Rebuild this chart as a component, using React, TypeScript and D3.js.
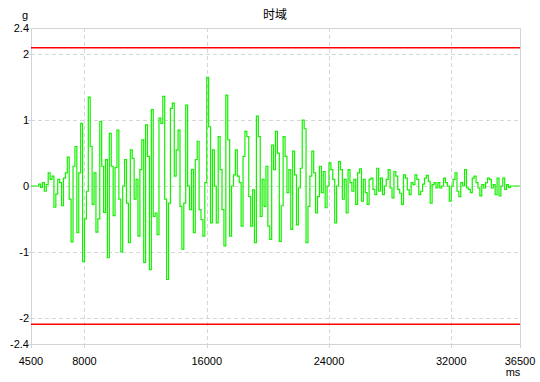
import React from "react";
import * as d3 from "d3";

const title = "时域";
const yUnit = "g";
const xUnit = "ms";
const xDomain = [4500, 36500];
const yDomain = [-2.4, 2.4];
const xTicks = [4500, 8000, 16000, 24000, 32000, 36500];
const xGrid = [8000, 16000, 24000, 32000];
const yTicks = [-2.4, -2, -1, 0, 1, 2, 2.4];
const yGrid = [-2, -1, 0, 1, 2];
const limits = [2.1, -2.1];
const sampleStartMs = 4500;
const sampleStepMs = 125;
const accel = [
  0, 0, 0, 0, 0.03, -0.02, 0.05, -0.08, 0.02, 0.2,
  0.1, 0.15, -0.32, -0.12, 0.1, 0.05, -0.3, 0.12, 0.2, 0.44,
  -0.2, -0.85, 0.3, 0.6, -0.71, 0.2, 0.95, -1.15, -0.5, -0.08,
  1.35, 0.6, -0.28, 0.2, -0.7, -0.5, 0.98, 0.3, -0.4, 0.4,
  -1.09, 0.8, 0.3, -0.45, 0.28, 0.85, -0.2, -1.0, 0.0, 0.4,
  -0.26, -0.86, 0.55, 0.42, -0.2, 0.1, -0.76, 0.25, 0.7, -1.16,
  0.93, 0.45, -1.27, 1.16, -0.46, -0.41, -0.74, 1.03, 0.95, 1.36,
  -0.2, -1.42, -0.26, 1.18, 1.26, 0.15, 0.55, 0.85, -0.31, -0.96,
  -0.26, 1.23, 0.0, -0.36, 0.25, -0.71, 0.4, 0.68, -0.36, -0.51,
  -0.76, 0.05, 1.65, 0.9, -0.56, 0.55, 0.0, -0.56, 0.75, 0.25,
  -0.36, -0.91, 1.38, 0.7, -0.76, 0.0, 0.17, 0.55, 0.15, 0.05,
  -0.61, 0.45, 0.83, 0.75, -0.16, -0.61, -0.06, -0.86, 1.06, 0.75,
  -0.46, 0.1, -0.31, 0.3, -0.61, -0.81, 0.62, 0.25,
  0.83, 0.5, -0.84, -0.3, 0.75, 0.45, -0.1, 0.25, -0.66, 0.53,
  0.17, -0.59, -0.03, 0.27, 1.0, 0.87, -0.86, -0.31, 0.15, 0.53,
  0.2, -0.41, -0.16, 0.3, -0.1, 0.22, -0.33, 0.0, 0.35, 0.25,
  0.1, -0.56, 0.0, 0.37, 0.25, -0.2, 0.1, -0.41, 0.25, 0.05,
  -0.08, 0.1, -0.28, 0.2, 0.26, -0.23, 0.1, -0.1, -0.28, 0.1,
  0.12, -0.05, -0.13, 0.27, -0.08, 0.12, -0.13, 0.0, 0.1, 0.25,
  -0.03, -0.18, 0.22, 0.15, -0.05, -0.11, -0.28, 0.17, 0.12, -0.06,
  -0.13, 0.05, 0.02, 0.17, 0.1, -0.13, -0.08, 0.03, 0.12, 0.16,
  0.07, -0.26, 0.02, 0.05, -0.03, 0.05, -0.03, 0.0, 0.12, 0.05,
  0.0, -0.23, 0.0, 0.1, 0.2, -0.08, -0.16, 0.05, 0.0, 0.25,
  -0.03, -0.05, -0.1, 0.12, 0.15, 0.05, -0.03, -0.15, 0.02, -0.03,
  0.05, 0.12, 0.1, -0.03, 0.02, -0.13, 0.12, -0.15, 0.0, 0.12,
  -0.05, 0.02, -0.02, 0.0, 0, 0, 0, 0, 0
];

const W = 540;
const H = 382;
const M = { left: 31, right: 520, top: 28, bottom: 344 };
const font = "'Liberation Sans', Arial, sans-serif";
const gridColor = "#d6d6d6";
const axisColor = "#d4d4d4";

export default function App() {
  const x = d3.scaleLinear().domain(xDomain).range([M.left, M.right]);
  const y = d3.scaleLinear().domain(yDomain).range([M.bottom, M.top]);
  const pts: [number, number][] = accel.map((v, i) => [sampleStartMs + i * sampleStepMs, v]);
  const line = d3
    .line<[number, number]>()
    .x((d) => x(d[0]))
    .y((d) => y(d[1]))
    .curve(d3.curveStepAfter);
  const path = line(pts) || "";

  return (
    <svg
      width={W}
      height={H}
      style={{ position: "absolute", left: 0, top: 0, background: "#fff" }}
      fontFamily={font}
    >
      <rect x={0} y={0} width={W} height={H} fill="#fff" />
      {xGrid.map((t) => (
        <line
          key={"xg" + t}
          x1={Math.round(x(t)) + 0.5}
          x2={Math.round(x(t)) + 0.5}
          y1={M.top}
          y2={M.bottom}
          stroke={gridColor}
          strokeDasharray="4,3"
        />
      ))}
      {yGrid.map((t) => (
        <line
          key={"yg" + t}
          x1={M.left}
          x2={M.right}
          y1={Math.round(y(t)) + 0.5}
          y2={Math.round(y(t)) + 0.5}
          stroke={gridColor}
          strokeDasharray="4,3"
        />
      ))}
      <path
        d={`M${M.left + 0.5},${M.top + 0.5}H${M.right + 0.5}V${M.bottom + 0.5}H${M.left + 0.5}Z`}
        fill="none"
        stroke={axisColor}
      />
      {yTicks.map((t) => (
        <g key={"yt" + t}>
          <line
            x1={M.left - 3}
            x2={M.left}
            y1={Math.round(y(t)) + 0.5}
            y2={Math.round(y(t)) + 0.5}
            stroke={axisColor}
          />
          <text
            x={M.left - 2}
            y={y(t)}
            dy="0.35em"
            textAnchor="end"
            fontSize={11}
            fill="#000"
          >
            {t}
          </text>
        </g>
      ))}
      {xTicks.map((t) => (
        <g key={"xt" + t}>
          <line
            x1={Math.round(x(t)) + 0.5}
            x2={Math.round(x(t)) + 0.5}
            y1={M.bottom}
            y2={M.bottom + 4}
            stroke={axisColor}
          />
          <text x={x(t)} y={365} textAnchor="middle" fontSize={11} fill="#000">
            {t}
          </text>
        </g>
      ))}
      <path d={path} fill="none" stroke="#14f000" strokeWidth={1.2} />
      {limits.map((v) => (
        <line
          key={"lim" + v}
          x1={M.left}
          x2={M.right}
          y1={y(v)}
          y2={y(v)}
          stroke="#ff0000"
          strokeWidth={1.5}
        />
      ))}
      <text x={275} y={19} textAnchor="middle" fontSize={12} fontFamily="'Noto Sans CJK SC', sans-serif" fill="#000">
        {title}
      </text>
      <text x={25} y={19} textAnchor="middle" fontSize={11} fill="#000">
        {yUnit}
      </text>
      <text x={513} y={376} textAnchor="middle" fontSize={11} fill="#000">
        {xUnit}
      </text>
    </svg>
  );
}
